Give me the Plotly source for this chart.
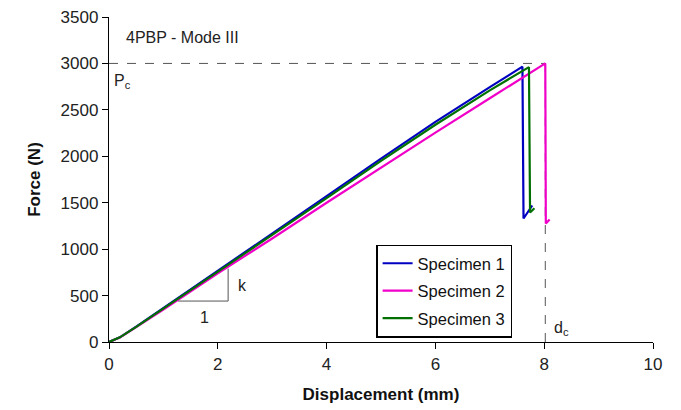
import plotly.graph_objects as go

# Data
s1_x = [0, 0.2, 0.5, 1, 2, 3, 4, 5, 6, 7, 7.45, 7.6, 7.62, 7.78]
s1_y = [0, 50, 165, 365, 770, 1165, 1570, 1975, 2370, 2745, 2910, 2965, 1330, 1470]
s2_x = [0, 0.2, 0.5, 1, 2, 3, 4, 5, 6, 7, 7.8, 8.02, 8.03, 8.1]
s2_y = [0, 48, 160, 350, 740, 1115, 1500, 1880, 2255, 2625, 2920, 3000, 1275, 1320]
s3_x = [0, 0.2, 0.5, 1, 2, 3, 4, 5, 6, 7, 7.55, 7.72, 7.74, 7.82]
s3_y = [0, 50, 163, 360, 760, 1150, 1550, 1950, 2340, 2710, 2905, 2960, 1395, 1440]
names = ["Specimen 1", "Specimen 2", "Specimen 3"]
colors = ["#0000C0", "#F000C8", "#007000"]

Pc = 3000
dc = 8.02
tri_x = [1.27, 2.19, 2.19]
tri_y = [441, 441, 790]

x_ticks = [0, 2, 4, 6, 8, 10]
y_ticks = [0, 500, 1000, 1500, 2000, 2500, 3000, 3500]

FONT = "Liberation Sans, Arial, sans-serif"
FS = 17

fig = go.Figure()

# reference dashed lines
fig.add_trace(go.Scatter(x=[0, dc], y=[Pc, Pc], mode="lines",
                         line=dict(color="#555555", width=1, dash="dash"),
                         showlegend=False, hoverinfo="skip"))
fig.add_trace(go.Scatter(x=[dc, dc], y=[0, Pc], mode="lines",
                         line=dict(color="#555555", width=1, dash="dash"),
                         showlegend=False, hoverinfo="skip"))
# slope triangle
fig.add_trace(go.Scatter(x=tri_x, y=tri_y, mode="lines",
                         line=dict(color="#555555", width=1),
                         showlegend=False, hoverinfo="skip"))

for i, (xs, ys) in enumerate([(s1_x, s1_y), (s2_x, s2_y), (s3_x, s3_y)]):
    fig.add_trace(go.Scatter(x=xs, y=ys, mode="lines", name=names[i],
                             legendgroup=names[i],
                             line=dict(color=colors[i], width=2.2)))

ann_font = dict(family=FONT, size=16, color="#222")
fig.add_annotation(x=0.28, y=3275, xref="x", yref="y", text="4PBP - Mode III",
                   showarrow=False, xanchor="left", yanchor="middle", font=ann_font)
fig.add_annotation(x=0.05, y=2810, xref="x", yref="y", text="P<sub>c</sub>",
                   showarrow=False, xanchor="left", yanchor="middle", font=ann_font)
fig.add_annotation(x=8.15, y=150, xref="x", yref="y", text="d<sub>c</sub>",
                   showarrow=False, xanchor="left", yanchor="middle", font=ann_font)
fig.add_annotation(x=2.45, y=610, xref="x", yref="y", text="k",
                   showarrow=False, xanchor="center", yanchor="middle", font=ann_font)
fig.add_annotation(x=1.75, y=260, xref="x", yref="y", text="1",
                   showarrow=False, xanchor="center", yanchor="middle", font=ann_font)

axis_common = dict(showline=True, linecolor="black", linewidth=1.3,
                   ticks="outside", ticklen=6, tickcolor="black", tickwidth=1.2,
                   showgrid=False, zeroline=False, mirror=False, automargin=False,
                   tickfont=dict(family=FONT, size=FS, color="#222"))

fig.update_layout(
    width=681, height=410,
    margin=dict(l=109, r=28, t=17, b=68),
    paper_bgcolor="white", plot_bgcolor="white",
    xaxis=dict(range=[0, 10], tickvals=x_ticks,
               title=dict(text="<b>Displacement (mm)</b>",
                          font=dict(family=FONT, size=FS, color="#111")),
               **axis_common),
    yaxis=dict(range=[0, 3500], tickvals=y_ticks,
               title=dict(text="<b>Force (N)</b>",
                          font=dict(family=FONT, size=FS, color="#111")),
               **axis_common),
    legend=dict(x=0.491, y=0.30, xanchor="left", yanchor="top",
                bordercolor="black", borderwidth=1.5, bgcolor="white",
                tracegroupgap=3, itemwidth=30,
                font=dict(family=FONT, size=16.5, color="#111")),
    showlegend=True,
)

fig.write_html("out.html")
